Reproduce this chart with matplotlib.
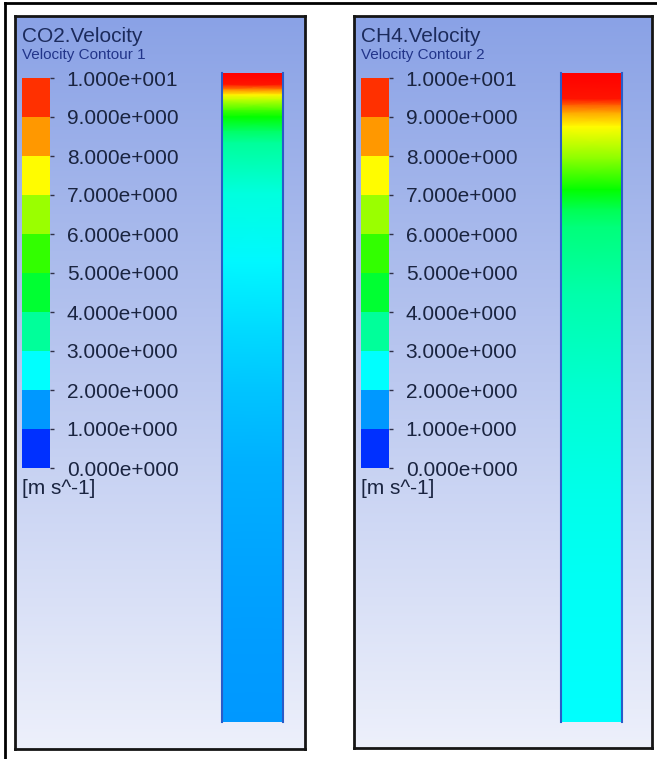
import numpy as np
import matplotlib
matplotlib.use('Agg')
import matplotlib.pyplot as plt
from matplotlib.colors import LinearSegmentedColormap, ListedColormap, BoundaryNorm
from matplotlib.cm import ScalarMappable
from matplotlib.lines import Line2D

plt.rcParams['font.family'] = ['Liberation Sans', 'DejaVu Sans']

# legend levels and labels
levels = [0, 1, 2, 3, 4, 5, 6, 7, 8, 9, 10]
level_labels = ['0.000e+000', '1.000e+000', '2.000e+000', '3.000e+000',
                '4.000e+000', '5.000e+000', '6.000e+000', '7.000e+000',
                '8.000e+000', '9.000e+000', '1.000e+001']
unit_label = '[m s^-1]'

titles = ['CO2.Velocity', 'CH4.Velocity']
subtitles = ['Velocity Contour 1', 'Velocity Contour 2']

# velocity along the column, position measured from top (0) to bottom (1)
co2_pos = [0.000, 0.018, 0.026, 0.034, 0.042, 0.058, 0.068, 0.090, 0.108,
           0.185, 0.290, 0.390, 0.490, 0.600, 0.750, 0.880, 1.000]
co2_vel = [10.0, 9.8, 8.6, 7.6, 6.8, 5.6, 5.0, 4.0, 3.5,
           2.85, 2.45, 2.15, 1.95, 1.75, 1.62, 1.55, 1.5]
ch4_pos = [0.000, 0.040, 0.050, 0.062, 0.083, 0.134, 0.180, 0.210, 0.237,
           0.339, 0.493, 0.650, 0.800, 1.000]
ch4_vel = [10.0, 9.8, 9.0, 8.3, 7.5, 6.3, 5.0, 4.2, 3.8,
           3.35, 2.95, 2.7, 2.6, 2.5]

# ansys style rainbow
rainbow = LinearSegmentedColormap.from_list(
    'ansys', ['#0000ff', '#00ffff', '#00ff00', '#ffff00', '#ff0000'])
band_cmap = ListedColormap(rainbow(np.linspace(0.05, 0.95, 10)))
bg_cmap = LinearSegmentedColormap.from_list('bg', ['#8aa2e6', '#bcc9f0', '#edf0fb'])

W, H = 657, 759


def box(x0, y0, x1, y1):
    return [x0 / W, 1 - y1 / H, (x1 - x0) / W, (y1 - y0) / H]


fig = plt.figure(figsize=(W / 100, H / 100), dpi=100)

# outer frame (top and left only)
fig.add_artist(Line2D([5 / W, 1], [1 - 3 / H, 1 - 3 / H], transform=fig.transFigure,
                      color='k', lw=2))
fig.add_artist(Line2D([5 / W, 5 / W], [0, 1 - 3 / H], transform=fig.transFigure,
                      color='k', lw=2))

panels = [(15, 16, 305, 749), (354, 16, 652, 748)]
profiles = [(co2_pos, co2_vel), (ch4_pos, ch4_vel)]

for (px0, py0, px1, py1), (pos, vel), title, sub in zip(panels, profiles, titles, subtitles):
    # panel background
    ax = fig.add_axes(box(px0, py0, px1, py1))
    grad = np.linspace(0, 1, 256).reshape(-1, 1)
    ax.imshow(grad, aspect='auto', cmap=bg_cmap, extent=[0, 1, 0, 1], origin='upper')
    ax.set_xticks([])
    ax.set_yticks([])
    for sp in ax.spines.values():
        sp.set_color('#151515')
        sp.set_linewidth(2)

    # titles
    fig.text((px0 + 7) / W, 1 - 42 / H, title, fontsize=15, color='#1c2b5c', va='baseline')
    fig.text((px0 + 7) / W, 1 - 59 / H, sub, fontsize=11, color='#22358a', va='baseline')
    fig.text((px0 + 7) / W, 1 - 494 / H, unit_label, fontsize=15, color='#1a2440', va='baseline')

    # legend bar
    cax = fig.add_axes(box(px0 + 7, 78, px0 + 35, 468))
    cb = fig.colorbar(ScalarMappable(norm=BoundaryNorm(levels, 10), cmap=band_cmap),
                      cax=cax, ticks=levels)
    cb.set_ticklabels(level_labels)
    cb.outline.set_visible(False)
    cax.tick_params(length=3, width=1, color='#303048', pad=9,
                    labelsize=15, labelcolor='#1a2440')

    # contour of the column
    bax = fig.add_axes(box(px0 + 207, 73, px0 + 268, 722))
    y = np.array(pos)
    c = np.column_stack([vel, vel])
    bax.pcolormesh([0, 1], y, c, cmap=rainbow, vmin=0, vmax=10, shading='gouraud')
    bax.set_xlim(0, 1)
    bax.set_ylim(1, 0)
    bax.set_xticks([])
    bax.set_yticks([])
    for sp in bax.spines.values():
        sp.set_color('#2a5bc8')
        sp.set_linewidth(1.5)
    bax.spines['top'].set_visible(False)
    bax.spines['bottom'].set_visible(False)

fig.savefig('out.png', dpi=100)
